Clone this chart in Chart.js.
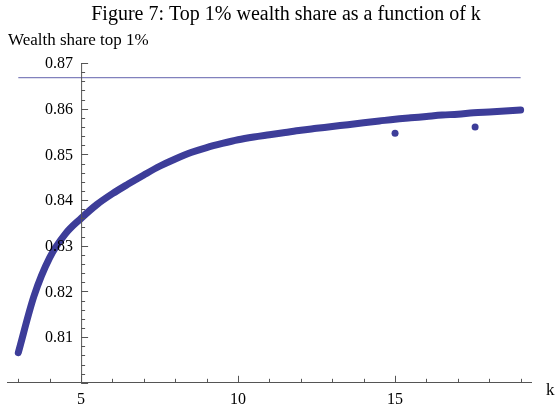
<!DOCTYPE html>
<html>
<head>
<meta charset="utf-8">
<title>Top 1% wealth share</title>
<script src="https://cdn.jsdelivr.net/npm/chart.js"></script>
<style>
  html, body { margin: 0; padding: 0; background: #fff; }
  #wrap { width: 558px; height: 416px; }
</style>
</head>
<body>
<div id="wrap"><canvas id="chart" width="558" height="416"></canvas></div>
<script>
// curve values (k step 0.5)
const kValues = [3, 3.5, 4, 4.5, 5, 5.5, 6, 6.5, 7, 7.5, 8, 8.5, 9, 9.5, 10, 10.5, 11,
  11.5, 12, 12.5, 13, 13.5, 14, 14.5, 15, 15.5, 16, 16.5, 17, 17.5, 18, 18.5, 19];
const shareValues = [0.8066, 0.8190, 0.8274, 0.8326, 0.8360, 0.8390, 0.8414, 0.8435, 0.8455,
  0.8474, 0.8490, 0.8504, 0.8515, 0.8524, 0.8532, 0.8538, 0.8543, 0.8548, 0.8553, 0.8557,
  0.8561, 0.8565, 0.8569, 0.8573, 0.8577, 0.8580, 0.8583, 0.8586, 0.8588, 0.8591, 0.8593,
  0.8595, 0.8597];

// the two separate dots
const dotK = [15, 17.55];
const dotShare = [0.8546, 0.8560];

// horizontal reference line
const refK = [3, 19];
const refLevel = 0.8668;

// ticks
const xTickLabels = [5, 10, 15];
const yTickLabels = [0.81, 0.82, 0.83, 0.84, 0.85, 0.86, 0.87];

const SERIF = '"Liberation Serif", "Times New Roman", serif';
const BLUE = 'rgb(61,61,153)';
const AXIS = '#555';

// Mathematica style axes: y axis crossing at k = 5, ticks pointing inwards
const axesPlugin = {
  id: 'mmaAxes',
  afterDatasetsDraw(chart) {
    const {ctx} = chart;
    const xs = chart.scales.x, ys = chart.scales.y;
    const x0 = xs.getPixelForValue(5);
    const yBot = ys.getPixelForValue(0.80), yTop = ys.getPixelForValue(0.87);
    ctx.save();
    ctx.strokeStyle = AXIS;
    ctx.lineWidth = 1;
    ctx.beginPath();
    ctx.moveTo(x0 + 0.5, yBot);
    ctx.lineTo(x0 + 0.5, yTop);
    // y ticks every 0.002
    for (let i = 0; i <= 35; i++) {
      const v = 0.80 + i * 0.002;
      const y = Math.round(ys.getPixelForValue(v)) + 0.5;
      const len = i % 5 === 0 ? 7 : 4;
      ctx.moveTo(x0, y);
      ctx.lineTo(x0 + len, y);
    }
    // x ticks every 1
    for (let k = 3; k <= 19; k++) {
      const x = Math.round(xs.getPixelForValue(k)) + 0.5;
      const len = k % 5 === 0 ? 7 : 4;
      ctx.moveTo(x, yBot);
      ctx.lineTo(x, yBot - len);
    }
    ctx.stroke();

    ctx.fillStyle = '#000';
    ctx.font = '16px ' + SERIF;
    ctx.textAlign = 'right';
    ctx.textBaseline = 'middle';
    yTickLabels.forEach(v => {
      ctx.fillText(v.toFixed(2), x0 - 8, ys.getPixelForValue(v) + 1);
    });

    ctx.textAlign = 'center';
    ctx.textBaseline = 'alphabetic';
    ctx.font = '20px ' + SERIF;
    ctx.fillText('Figure 7: Top 1% wealth share as a function of k', 286, 20);
    ctx.textAlign = 'left';
    ctx.font = '17px ' + SERIF;
    ctx.fillText('Wealth share top 1%', 8, 45);
    ctx.fillText('k', 546, 395);
    ctx.restore();
  }
};

new Chart(document.getElementById('chart'), {
  type: 'line',
  data: {
    datasets: [
      {
        label: 'reference',
        data: refK.map(k => ({x: k, y: refLevel})),
        borderColor: 'rgba(61,61,153,0.65)',
        borderWidth: 1.2,
        pointRadius: 0
      },
      {
        label: 'share',
        data: kValues.map((k, i) => ({x: k, y: shareValues[i]})),
        borderColor: BLUE,
        borderWidth: 7,
        borderCapStyle: 'round',
        borderJoinStyle: 'round',
        cubicInterpolationMode: 'monotone',
        pointRadius: 0
      },
      {
        label: 'dots',
        type: 'scatter',
        data: dotK.map((k, i) => ({x: k, y: dotShare[i]})),
        backgroundColor: BLUE,
        borderWidth: 0,
        pointRadius: 3.5
      }
    ]
  },
  options: {
    responsive: false,
    animation: false,
    clip: false,
    layout: { padding: { left: 5, right: 27, top: 63, bottom: 0 } },
    plugins: {
      legend: { display: false },
      tooltip: { enabled: false },
      title: { display: false }
    },
    scales: {
      x: {
        type: 'linear',
        min: 2.64,
        max: 19.33,
        grid: { display: false, drawTicks: false },
        border: { display: true, color: AXIS, width: 1 },
        ticks: {
          stepSize: 5,
          padding: 7,
          color: '#000',
          font: { family: SERIF, size: 16 },
          maxRotation: 0,
          autoSkip: false,
          callback: v => xTickLabels.includes(v) ? String(v) : ''
        }
      },
      y: {
        type: 'linear',
        display: false,
        min: 0.80,
        max: 0.87
      }
    }
  },
  plugins: [axesPlugin]
});
</script>
</body>
</html>
